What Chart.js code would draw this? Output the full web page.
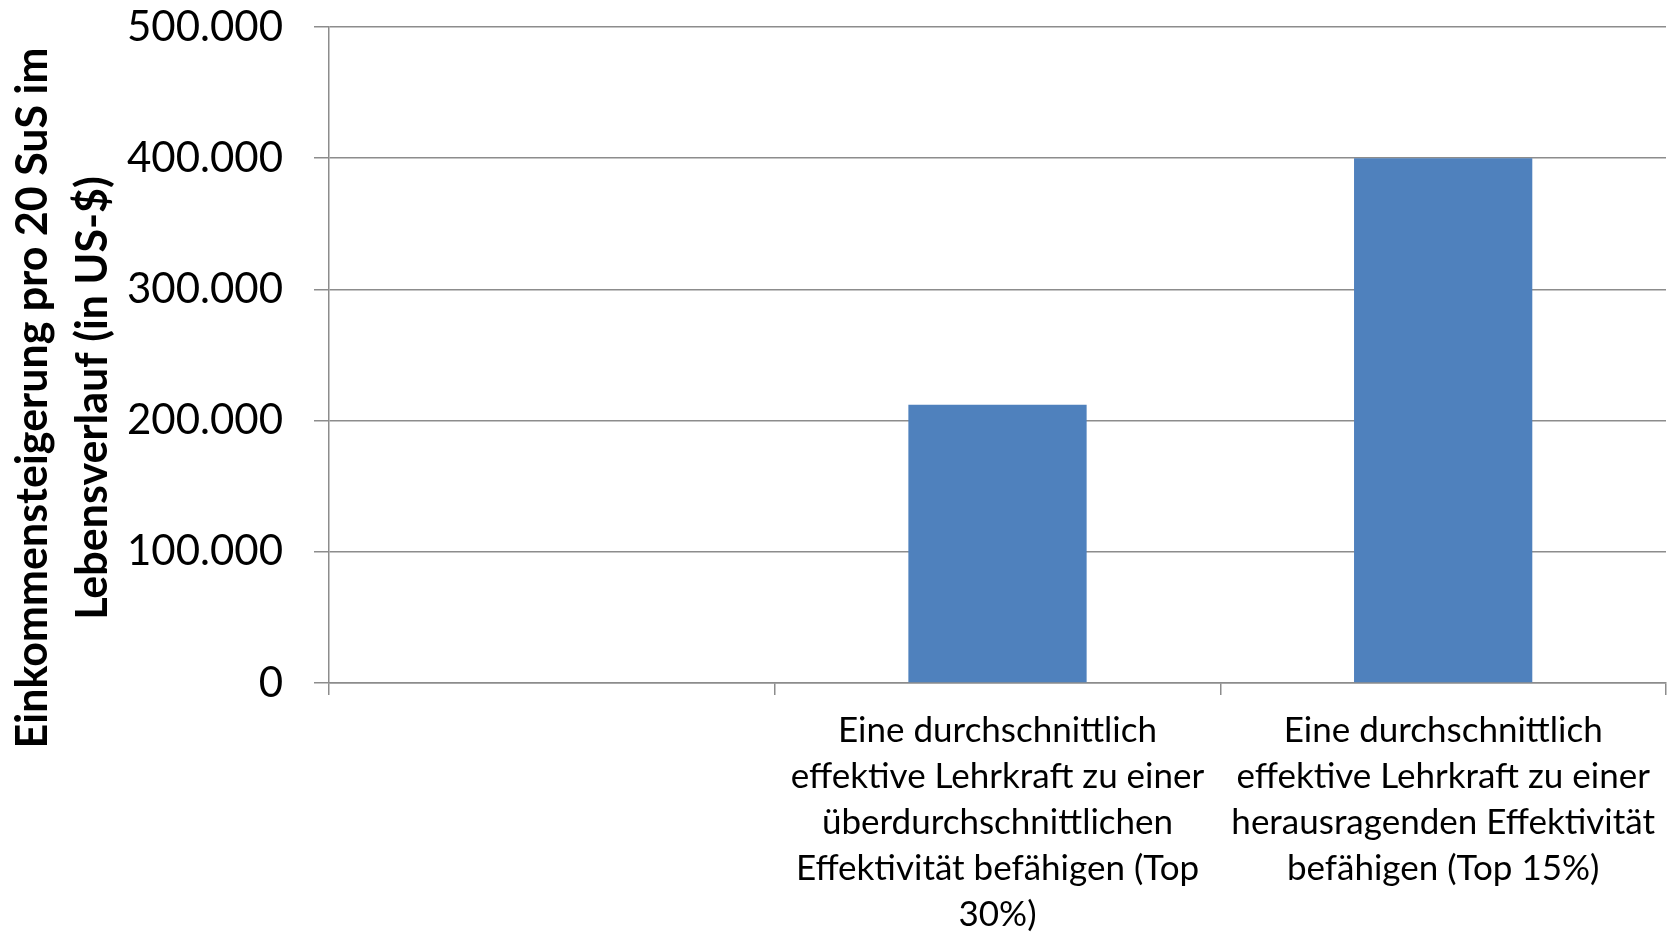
<!DOCTYPE html>
<html>
<head>
<meta charset="utf-8">
<script src="https://cdn.jsdelivr.net/npm/chart.js@4"></script>
<style>
    html, body { margin: 0; padding: 0; background: #ffffff; }
    #wrap { width: 1675px; height: 933px; position: relative; }
</style>
</head>
<body>
<div id="wrap"><canvas id="einkommenChart"></canvas></div>
<script>
// Kategorien (erste Kategorie ist leer)
const categories = [
    '',
    ['Eine durchschnittlich', 'effektive Lehrkraft zu einer', 'überdurchschnittlichen', 'Effektivität befähigen (Top', '30%)'],
    ['Eine durchschnittlich', 'effektive Lehrkraft zu einer', 'herausragenden Effektivität', 'befähigen (Top 15%)']
];

// Einkommensteigerung in US-$
const values = [null, 212000, 400000];

// Y-Achse
const yTicks = [0, 100000, 200000, 300000, 400000, 500000];
const yTitle = ['Einkommensteigerung pro 20 SuS im', 'Lebensverlauf (in US-$)'];

const gridColor = '#8c8c8c';

// Format nummer mit punkt als tausender-trenner
function formatNumber(num) {
    return num.toString().replace(/\B(?=(\d{3})+(?!\d))/g, '.');
}

// Y-Achsentitel selbst zeichnen (zentriert etwas tiefer als im Plotbereich)
const yTitlePlugin = {
    id: 'yTitlePlugin',
    afterDraw(chart) {
        const ctx = chart.ctx;
        const baselines = [47, 107];
        const centerY = 398;
        ctx.save();
        ctx.fillStyle = '#000000';
        ctx.font = 'bold 43px Lato';
        ctx.textAlign = 'center';
        ctx.textBaseline = 'alphabetic';
        yTitle.forEach((line, i) => {
            ctx.save();
            ctx.translate(baselines[i], centerY);
            ctx.rotate(-Math.PI / 2);
            ctx.fillText(line, 0, 0);
            ctx.restore();
        });
        ctx.restore();
    }
};

const ctx = document.getElementById('einkommenChart').getContext('2d');

new Chart(ctx, {
    type: 'bar',
    data: {
        labels: categories,
        datasets: [{
            label: 'Einkommensteigerung',
            data: values,
            backgroundColor: '#4f81bd',
            borderWidth: 0,
            barPercentage: 0.4,
            categoryPercentage: 1.0
        }]
    },
    options: {
        responsive: true,
        maintainAspectRatio: false,
        animation: false,
        layout: {
            padding: { top: 27, right: 9, bottom: 0, left: 0 }
        },
        plugins: {
            legend: { display: false },
            tooltip: { enabled: false }
        },
        scales: {
            x: {
                offset: true,
                grid: {
                    offset: true,
                    drawOnChartArea: false,
                    drawTicks: true,
                    tickLength: 12,
                    color: gridColor,
                    lineWidth: 1.5
                },
                border: { color: gridColor, width: 1.5 },
                ticks: {
                    color: '#000000',
                    font: { family: 'Lato', size: 35, lineHeight: '46px' },
                    maxRotation: 0,
                    autoSkip: false,
                    padding: 13
                },
                afterFit(scale) {
                    scale.height = 250;
                    scale.paddingLeft = 0;
                    scale.paddingRight = 0;
                }
            },
            y: {
                min: 0,
                max: 500000,
                afterBuildTicks(scale) {
                    scale.ticks = yTicks.map(v => ({ value: v }));
                },
                grid: {
                    color: gridColor,
                    lineWidth: 1.5,
                    drawTicks: true,
                    tickLength: 15
                },
                border: { color: gridColor, width: 1.5 },
                ticks: {
                    color: '#000000',
                    font: { family: 'Lato', size: 42 },
                    padding: 31,
                    callback: function(value) {
                        return formatNumber(value);
                    }
                },
                afterFit(scale) {
                    scale.width = 329;
                    scale.paddingTop = 0;
                    scale.paddingBottom = 0;
                }
            }
        }
    },
    plugins: [yTitlePlugin]
});
</script>
</body>
</html>
